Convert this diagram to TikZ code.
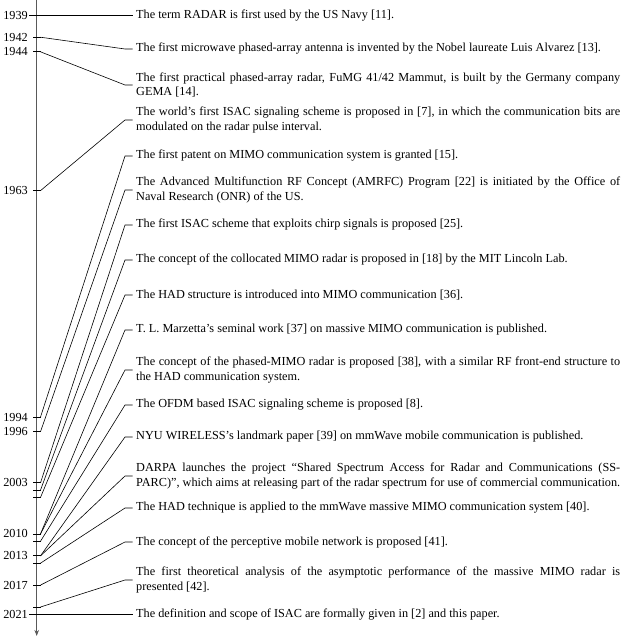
\documentclass[tikz,border=0pt]{standalone}
\usepackage{fontspec}
\setmainfont{Liberation Serif}
\usetikzlibrary{arrows.meta}
\begin{document}
\begin{tikzpicture}[x=1bp,y=-1bp,
  evt/.style={anchor=west,inner xsep=3.5bp,inner ysep=0pt,text width=484bp,align=justify,font=\fontsize{12.3}{15}\selectfont},
  yr/.style={anchor=east,inner sep=0pt,font=\fontsize{12.3}{15}\selectfont},
  conn/.style={line width=0.6bp,black},
  tickm/.style={line width=0.8bp,black},
  axisline/.style={line width=1.4bp,black!65,-{Stealth[length=6bp,width=4.5bp]}}]
\useasboundingbox (0,0) rectangle (640,639);
% axis
\coordinate (atop) at (36.7,0);
\coordinate (abot) at (36.7,636);
\draw[axisline] (atop) -- (abot);
% ticks
\foreach \yy in {1939,1942,1944,1963,1994,1996,2003,2004,2005,2010,2011,2013,2014,2017,2020,2021}{
  \coordinate (t\yy) at (40.5,{15.3+(\yy-1939)*7.305});
  \coordinate (l\yy) at (33,{15.3+(\yy-1939)*7.305});
  \draw[tickm] (l\yy) -- (t\yy);
}
\foreach \yy in {1939,1942,1944,1963,1994,1996,2003,2010,2013,2017,2021}{
  \node[yr] (y\yy) at (28,{15.3+(\yy-1939)*7.305}) {\yy};
}
\coordinate (s1939) at (29,15.3);
\coordinate (s2021) at (29,614.3);
% events
\node[evt] (e1) at (132.5,15.3) {The term RADAR is first used by the US Navy [11].};
\node[evt] (e2) at (132.5,49) {The first microwave phased-array antenna is invented by the Nobel laureate Luis Alvarez [13].};
\node[evt] (e3) at (132.5,85) {The first practical phased-array radar, FuMG 41/42 Mammut, is built by the Germany company\linebreak GEMA [14].};
\node[evt] (e4) at (132.5,120) {The world’s first ISAC signaling scheme is proposed in [7], in which the communication bits are\linebreak modulated on the radar pulse interval.};
\node[evt] (e5) at (132.5,156) {The first patent on MIMO communication system is granted [15].};
\node[evt] (e6) at (132.5,190) {The Advanced Multifunction RF Concept (AMRFC) Program [22] is initiated by the Office of\linebreak Naval Research (ONR) of the US.};
\node[evt] (e7) at (132.5,225) {The first ISAC scheme that exploits chirp signals is proposed [25].};
\node[evt] (e8) at (132.5,260) {The concept of the collocated MIMO radar is proposed in [18] by the MIT Lincoln Lab.};
\node[evt] (e9) at (132.5,295) {The HAD structure is introduced into MIMO communication [36].};
\node[evt] (e10) at (132.5,330) {T. L. Marzetta’s seminal work [37] on massive MIMO communication is published.};
\node[evt] (e11) at (132.5,370) {The concept of the phased-MIMO radar is proposed [38], with a similar RF front-end structure to\linebreak the HAD communication system.};
\node[evt] (e12) at (132.5,405) {The OFDM based ISAC signaling scheme is proposed [8].};
\node[evt] (e13) at (132.5,437) {NYU WIRELESS’s landmark paper [39] on mmWave mobile communication is published.};
\node[evt] (e14) at (132.5,476) {DARPA launches the project “Shared Spectrum Access for Radar and Communications (SS-\linebreak PARC)”, which aims at releasing part of the radar spectrum for use of commercial communication.};
\node[evt] (e15) at (132.5,508) {The HAD technique is applied to the mmWave massive MIMO communication system [40].};
\node[evt] (e16) at (132.5,542) {The concept of the perceptive mobile network is proposed [41].};
\node[evt] (e17) at (132.5,580) {The first theoretical analysis of the asymptotic performance of the massive MIMO radar is\linebreak presented [42].};
\node[evt] (e18) at (132.5,614.3) {The definition and scope of ISAC are formally given in [2] and this paper.};
% connectors
\draw[conn] (s1939) -- (e1.west);
\draw[conn] (t1942) -- ([xshift=-7.5bp]e2.west) -- (e2.west);
\draw[conn] (t1944) -- ([xshift=-7.5bp]e3.west) -- (e3.west);
\draw[conn] (t1963) -- ([xshift=-7.5bp]e4.west) -- (e4.west);
\draw[conn] (t1994) -- ([xshift=-7.5bp]e5.west) -- (e5.west);
\draw[conn] (t1996) -- ([xshift=-7.5bp]e6.west) -- (e6.west);
\draw[conn] (t2003) -- ([xshift=-7.5bp]e7.west) -- (e7.west);
\draw[conn] (t2004) -- ([xshift=-7.5bp]e8.west) -- (e8.west);
\draw[conn] (t2005) -- ([xshift=-7.5bp]e9.west) -- (e9.west);
\draw[conn] (t2010) -- ([xshift=-7.5bp]e10.west) -- (e10.west);
\draw[conn] (t2010) -- ([xshift=-7.5bp]e11.west) -- (e11.west);
\draw[conn] (t2011) -- ([xshift=-7.5bp]e12.west) -- (e12.west);
\draw[conn] (t2013) -- ([xshift=-7.5bp]e13.west) -- (e13.west);
\draw[conn] (t2013) -- ([xshift=-7.5bp]e14.west) -- (e14.west);
\draw[conn] (t2014) -- ([xshift=-7.5bp]e15.west) -- (e15.west);
\draw[conn] (t2017) -- ([xshift=-7.5bp]e16.west) -- (e16.west);
\draw[conn] (t2020) -- ([xshift=-7.5bp]e17.west) -- (e17.west);
\draw[conn] (s2021) -- (e18.west);
\end{tikzpicture}
\end{document}
